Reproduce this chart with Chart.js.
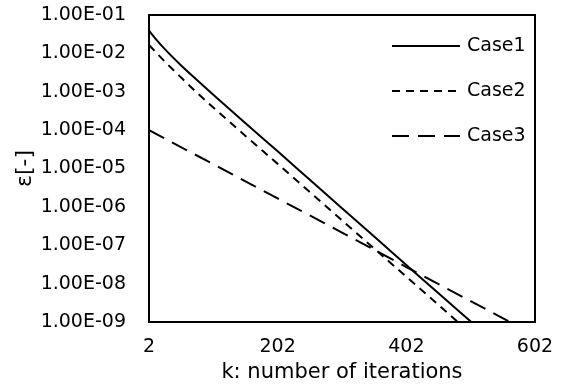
<!DOCTYPE html>
<html>
<head>
<meta charset="utf-8">
<script src="https://cdn.jsdelivr.net/npm/chart.js@4/dist/chart.umd.min.js"></script>
<style>
  html, body { margin: 0; padding: 0; background: #fff; }
  #wrap { width: 562px; height: 385px; position: relative; }
</style>
</head>
<body>
<div id="wrap"><canvas id="c"></canvas></div>
<script>
// ---- data ----
const seriesNames = ['Case1', 'Case2', 'Case3'];

const case1K   = [2, 12, 27, 52, 77, 102, 152, 202, 252, 302, 352, 402, 452, 503];
const case1Eps = [3.89e-2, 2.43e-2, 1.27e-2, 4.84e-3, 1.99e-3, 8.36e-4, 1.5e-4, 2.8e-5, 5.09e-6, 9.27e-7, 1.69e-7, 3.07e-8, 5.58e-9, 1.0e-9];

const case2K   = [2, 12, 27, 52, 77, 102, 152, 202, 252, 302, 352, 402, 452, 482];
const case2Eps = [1.66e-2, 1.1e-2, 6.03e-3, 2.34e-3, 9.33e-4, 3.89e-4, 7.08e-5, 1.32e-5, 2.43e-6, 4.47e-7, 8.22e-8, 1.51e-8, 2.79e-9, 1.0e-9];

const case3K   = [2, 102, 202, 302, 402, 502, 563];
const case3Eps = [1.0e-4, 1.29e-5, 1.66e-6, 2.14e-7, 2.7e-8, 3.5e-9, 1.0e-9];

const xTicks = [2, 202, 402, 602];
const yTicks = [1e-1, 1e-2, 1e-3, 1e-4, 1e-5, 1e-6, 1e-7, 1e-8, 1e-9];

const xTitle = 'k: number of iterations';
const yTitle = 'ε[-]';

// ---- helpers ----
function pts(ks, vs) { return ks.map((k, i) => ({ x: k, y: vs[i] })); }
function fmtE(v) {
  const e = Math.round(Math.log10(v));
  const m = v / Math.pow(10, e);
  const sign = e < 0 ? '-' : '+';
  const ea = Math.abs(e);
  return m.toFixed(2) + 'E' + sign + (ea < 10 ? '0' + ea : '' + ea);
}

const FONT = 'DejaVu Sans';
const dashes = [[], [8, 6], [17, 9]];

const frame = {
  id: 'frame',
  afterDatasetsDraw(chart) {
    const { ctx, chartArea: a } = chart;
    ctx.save();
    ctx.strokeStyle = '#000';
    ctx.lineWidth = 2;
    ctx.strokeRect(a.left, a.top, a.right - a.left, a.bottom - a.top);
    ctx.restore();
  }
};

const insideLegend = {
  id: 'insideLegend',
  afterDraw(chart) {
    const { ctx } = chart;
    const x0 = 392, x1 = 460, tx = 467;
    const rows = [46, 91, 136];
    ctx.save();
    ctx.font = '19px "' + FONT + '"';
    ctx.textBaseline = 'middle';
    ctx.textAlign = 'left';
    chart.data.datasets.forEach((ds, i) => {
      ctx.strokeStyle = '#000';
      ctx.lineWidth = 2;
      ctx.setLineDash(ds.borderDash || []);
      ctx.beginPath();
      ctx.moveTo(x0, rows[i]);
      ctx.lineTo(x1, rows[i]);
      ctx.stroke();
      ctx.setLineDash([]);
      ctx.fillStyle = '#000';
      ctx.fillText(ds.label, tx, rows[i]);
    });
    ctx.restore();
  }
};

const datasets = [
  pts(case1K, case1Eps),
  pts(case2K, case2Eps),
  pts(case3K, case3Eps)
].map((d, i) => ({
  label: seriesNames[i],
  data: d,
  borderColor: '#000',
  backgroundColor: '#000',
  borderWidth: 2,
  borderDash: dashes[i],
  pointRadius: 0,
  cubicInterpolationMode: 'monotone',
  fill: false
}));

Chart.defaults.font.family = FONT;
Chart.defaults.color = '#000';

new Chart(document.getElementById('c'), {
  type: 'line',
  data: { datasets },
  options: {
    responsive: true,
    maintainAspectRatio: false,
    animation: false,
    layout: { padding: { left: 0, top: 15, right: 27, bottom: 0 } },
    plugins: { legend: { display: false }, tooltip: { enabled: false } },
    scales: {
      x: {
        type: 'linear',
        min: 2, max: 602,
        afterBuildTicks: s => { s.ticks = xTicks.map(v => ({ value: v })); },
        afterFit: s => { s.height = 63; s.paddingLeft = 0; s.paddingRight = 0; },
        grid: { display: false, drawTicks: false },
        border: { display: false },
        ticks: { padding: 14, font: { size: 19 }, color: '#000', maxRotation: 0, autoSkip: false },
        title: { display: true, text: xTitle, font: { size: 21 }, color: '#000', padding: { top: 0, bottom: 0 } }
      },
      y: {
        type: 'logarithmic',
        min: 1e-9, max: 1e-1,
        afterBuildTicks: s => { s.ticks = yTicks.map(v => ({ value: v })); },
        afterFit: s => { s.width = 149; s.paddingTop = 0; s.paddingBottom = 0; },
        grid: { display: false, drawTicks: false },
        border: { display: false },
        ticks: { padding: 23, font: { size: 19 }, color: '#000', autoSkip: false, callback: v => fmtE(v) },
        title: { display: true, text: yTitle, font: { size: 22 }, color: '#000', padding: { top: 12, bottom: 0 } }
      }
    }
  },
  plugins: [frame, insideLegend]
});
</script>
</body>
</html>
